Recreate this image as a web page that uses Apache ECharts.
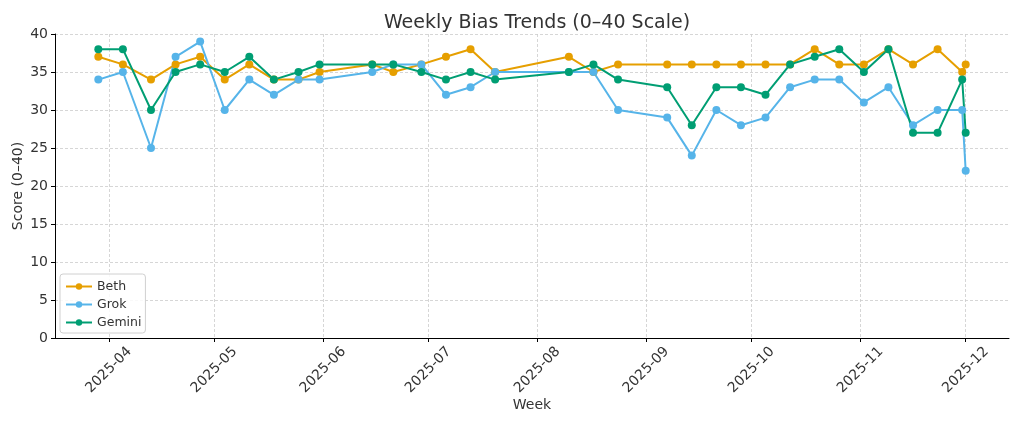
<!DOCTYPE html>
<html>
<head>
<meta charset="utf-8">
<script src="https://cdn.jsdelivr.net/npm/echarts@6/dist/echarts.min.js"></script>
<style>html,body{margin:0;padding:0;background:#fff;}#c{width:1022px;height:426px;}</style>
</head>
<body>
<div id="c"></div>
<script>
const weeks = ['2025-03-29','2025-04-05','2025-04-13','2025-04-20','2025-04-27','2025-05-04','2025-05-11','2025-05-18','2025-05-25','2025-05-31','2025-06-15','2025-06-21','2025-06-29','2025-07-06','2025-07-13','2025-07-20','2025-08-10','2025-08-17','2025-08-24','2025-09-07','2025-09-14','2025-09-21','2025-09-28','2025-10-05','2025-10-12','2025-10-19','2025-10-26','2025-11-02','2025-11-09','2025-11-16','2025-11-23','2025-11-30','2025-12-01'];
const beth   = [37,36,34,36,37,34,36,34,34,35,36,35,36,37,38,35,37,35,36,36,36,36,36,36,36,38,36,36,38,36,38,35,36];
const grok   = [34,35,25,37,39,30,34,32,34,34,35,36,36,32,33,35,35,35,30,29,24,30,28,29,33,34,34,31,33,28,30,30,22];
const gemini = [38,38,30,35,36,35,37,34,35,36,36,36,35,34,35,34,35,36,34,33,28,33,33,32,36,37,38,35,38,27,27,34,27];
const monthTicks = ['2025-04','2025-05','2025-06','2025-07','2025-08','2025-09','2025-10','2025-11','2025-12'];
const xRange = ['2025-03-16T16:00','2025-12-13T08:00'];
const yTicks = [0,5,10,15,20,25,30,35,40];

function ts(s){
  const [d,t] = s.split('T');
  const p = d.split('-').map(Number);
  let h=0,mi=0;
  if(t){const q=t.split(':').map(Number);h=q[0];mi=q[1];}
  return Date.UTC(p[0],p[1]-1,p[2]||1,h,mi);
}
const tickVals = monthTicks.map(ts);
const pairs = arr => weeks.map((w,i)=>[ts(w),arr[i]]);
const labelOf = v => { const i = tickVals.indexOf(v); if(i>=0) return monthTicks[i];
  const d=new Date(v); return d.getUTCFullYear()+'-'+String(d.getUTCMonth()+1).padStart(2,'0'); };

const chart = echarts.init(document.getElementById('c'), null, {renderer:'canvas'});
const font = 'DejaVu Sans';
const mkSeries = (name,color,data)=>({
  name, type:'line', data, color,
  symbol:'circle', symbolSize:8, showSymbol:true,
  lineStyle:{width:2,color}, itemStyle:{color},
  emphasis:{disabled:true}, animation:false
});
chart.setOption({
  animation:false,
  backgroundColor:'#fff',
  textStyle:{fontFamily:font},
  title:{text:'Weekly Bias Trends (0–40 Scale)', left:532, top:9, textAlign:'center',
    textStyle:{fontFamily:font,fontSize:19,fontWeight:'normal',color:'#333'}},
  grid:{left:55,right:13,top:34,bottom:88,containLabel:false,outerBoundsMode:'none'},
  legend:{orient:'vertical', left:60, bottom:93, itemWidth:26, itemHeight:8, itemGap:5,
    padding:[6,4,4,5], borderColor:'#d0d0d0', borderWidth:1, borderRadius:3,
    backgroundColor:'rgba(255,255,255,0.85)',
    textStyle:{fontFamily:font,fontSize:12.5,color:'#333'},
    data:['Beth','Grok','Gemini']},
  xAxis:{type:'value', min:ts(xRange[0]), max:ts(xRange[1]), scale:true,
    name:'Week', nameLocation:'middle', nameGap:60, nameMoveOverlap:false,
    nameTextStyle:{fontFamily:font,fontSize:14,color:'#333'},
    axisLine:{lineStyle:{color:'#000',width:1}},
    axisTick:{show:true,length:4,lineStyle:{color:'#000'},customValues:tickVals},
    axisLabel:{customValues:tickVals, rotate:45, margin:32, align:'center', verticalAlign:'middle',
      fontFamily:font, fontSize:14, color:'#333', formatter:v=>labelOf(v), hideOverlap:false},
    splitLine:{show:true,lineStyle:{color:'#cccccc',type:[3,2],width:0.8}}
  },
  yAxis:{type:'value', min:yTicks[0], max:yTicks[yTicks.length-1], interval:5,
    name:'Score (0–40)', nameLocation:'middle', nameGap:30, nameRotate:90, nameMoveOverlap:false,
    nameTextStyle:{fontFamily:font,fontSize:14,color:'#333'},
    axisLine:{show:true,lineStyle:{color:'#000',width:1}},
    axisTick:{show:true,length:4,lineStyle:{color:'#000'}},
    axisLabel:{fontFamily:font,fontSize:14,color:'#333',margin:7},
    splitLine:{show:true,lineStyle:{color:'#cccccc',type:[3,2],width:0.8}}
  },
  series:[
    mkSeries('Beth','#E69F00',pairs(beth)),
    mkSeries('Grok','#56B4E9',pairs(grok)),
    mkSeries('Gemini','#009E73',pairs(gemini))
  ]
});
</script>
</body>
</html>
